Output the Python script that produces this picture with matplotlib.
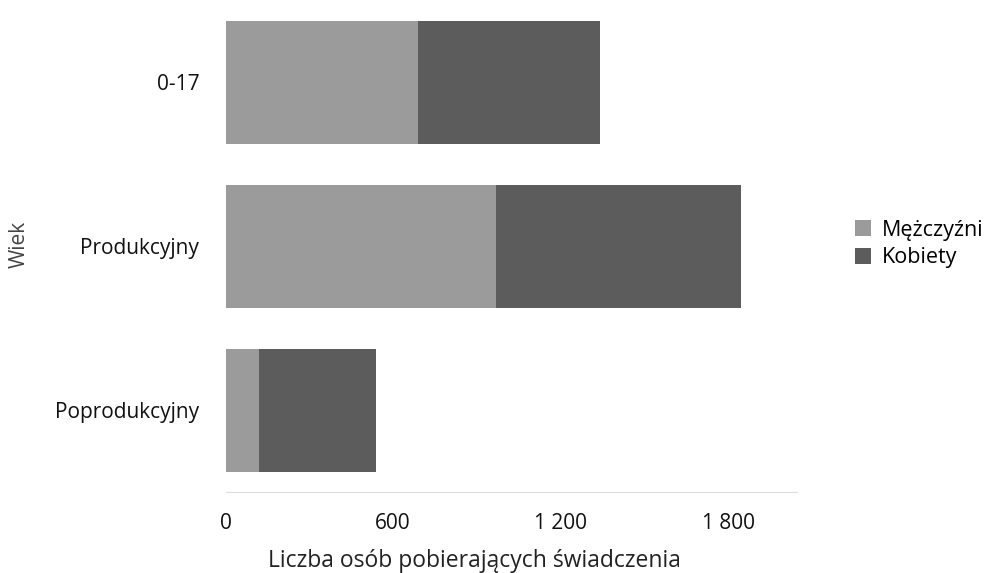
import matplotlib
matplotlib.use("Agg")
from matplotlib import pyplot as plt
import numpy as np

plt.rcParams['font.family'] = ['Open Sans', 'DejaVu Sans']

categories = ["0-17", "Produkcyjny", "Poprodukcyjny"]
men = [688, 967, 118]
women = [652, 878, 419]
ticks = [0, 600, 1200, 1800]
tick_labels = ["0", "600", "1 200", "1 800"]

fig = plt.figure(figsize=(9.85, 5.73), dpi=100)
ax = fig.add_axes([0.229, 0.141, 0.58, 0.859])

y = np.arange(len(categories))
b1 = ax.barh(y, men, height=0.75, color='#9b9b9b', label='Mężczyźni')
b2 = ax.barh(y, women, left=men, height=0.75, color='#5c5c5c', label='Kobiety')

ax.set_ylim(2.5, -0.5)
ax.set_xlim(0, 2045)
ax.set_yticks(y)
ax.set_yticklabels(categories, fontsize=15, color='#111111')
ax.set_xticks(ticks)
ax.set_xticklabels(tick_labels, fontsize=15, color='#111111')
ax.tick_params(length=0)
ax.tick_params(axis='x', pad=15)
ax.tick_params(axis='y', pad=19)

for s in ['top', 'right', 'left']:
    ax.spines[s].set_visible(False)
ax.spines['bottom'].set_color('#dddddd')

ax.set_xlabel("Liczba osób pobierających świadczenia", fontsize=16.5, color='#222222')
ax.xaxis.set_label_coords(0.435, -0.115)
fig.text(0.019, 0.574, "Wiek", rotation=90, fontsize=15, color='#444444', va='center', ha='center')

fig.legend(handles=[b1, b2], loc='center left', bbox_to_anchor=(0.857, 0.574),
           frameon=False, fontsize=15.5, handlelength=0.75, handleheight=0.75,
           handletextpad=0.5, labelspacing=0.3, borderpad=0)

fig.savefig("out.png", dpi=100)
